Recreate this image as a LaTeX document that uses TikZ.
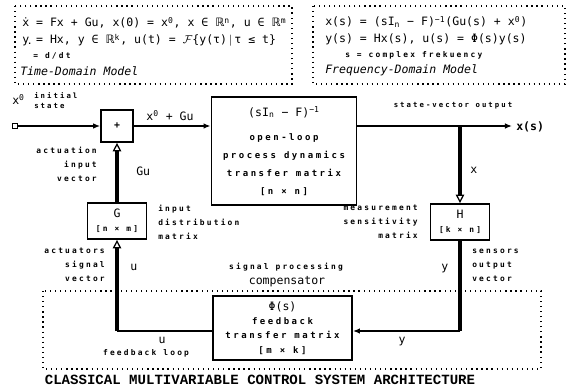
\documentclass[tikz,border=0pt]{standalone}
\usepackage{fontspec}
\usepackage{tikz}
\usetikzlibrary{arrows.meta, positioning, calc}
\newfontfamily\eqfont{DejaVu Sans Mono}
\newfontfamily\lblfont[LetterSpace=28]{DejaVu Sans Mono}
\newfontfamily\symfont{DejaVu Sans}
\newfontfamily\titlefont{Liberation Mono}
\newcommand{\eqsize}{\fontsize{8.2}{10}\selectfont}
\newcommand{\lblsize}{\fontsize{5.6}{10}\selectfont}
\newcommand{\RR}{{\symfont ℝ}}
\newcommand{\upx}[1]{\textsuperscript{#1}}
\newcommand{\dnx}[1]{\textsubscript{#1}}

\begin{document}
\begin{tikzpicture}[
        x=0.025cm, y=-0.025cm,
        eqn/.style={font=\eqfont\eqsize, inner sep=0pt, anchor=base west},
        lbl/.style={font=\lblfont\bfseries\lblsize, inner sep=0pt},
        blk/.style={draw, line width=1.3pt, inner sep=1pt, align=center, font=\lblfont\bfseries\fontsize{6.4}{12.8}\selectfont},
        dotbox/.style={line width=0.9pt, dash pattern=on 0.9pt off 2.7pt},
        hline/.style={line width=1.8pt},
        sig/.style={hline, -{Latex[length=5pt, width=4pt]}},
        feed/.style={line width=2.6pt},
        upin/.style={-{Triangle[open, length=6pt, width=6pt, line width=0.9pt]}}
    ]
        \useasboundingbox (0,0) rectangle (571,387);

        % model frames
        \draw[dotbox] (15,6) rectangle (292,84);
        \draw[dotbox] (313,6) rectangle (565,84);
        \draw[dotbox] (43,291) rectangle (541,369);

        % time-domain model
        \node[eqn] (tdm1) at (22,27) {ẋ = Fx + Gu, x(0) = x\upx{0}, x ∈ \RR\upx{n}, u ∈ \RR\upx{m}};
        \node[eqn] (tdm2) at (22,44) {y = Hx, y ∈ \RR\upx{k}, u(t) = $\mathcal{F}$\{y(τ)$\,|\,$τ ≤ t\}};
        \node[lbl, anchor=base west] (tdm3) at (27,59) {\raisebox{10pt}{.}\,= d/dt};
        \node[eqn, font=\eqfont\itshape\eqsize] (tdm4) at (20,76) {Time-Domain Model};

        % frequency-domain model
        \node[eqn] (fdm1) at (325,26) {x(s) = (sI\dnx{n} − F)\upx{−1}(Gu(s) + x\upx{0})};
        \node[eqn] (fdm2) at (325,43) {y(s) = Hx(s), u(s) = Φ(s)y(s)};
        \node[lbl, anchor=base west] (fdm3) at (345,58) {s = complex frekuency};
        \node[eqn, font=\eqfont\itshape\eqsize] (fdm4) at (325,74) {Frequency-Domain Model};

        % blocks
        \node[draw, line width=0.6pt, minimum size=0.11cm, inner sep=0pt] (x0src) at (15,126) {};
        \node[draw, line width=1.2pt, minimum size=0.8cm, inner sep=0pt, font=\lblfont\bfseries\fontsize{7}{10}\selectfont] (sum) at (117,126) {+};
        \node[blk, minimum width=3.625cm, minimum height=2.7cm] (plant) at (284,151)
            {{\eqfont\mdseries\eqsize (sI\dnx{n} − F)\upx{−1}}\\[4pt] open-loop\\ process dynamics\\ transfer matrix\\{[n × n]}};
        \node[blk, minimum width=1.475cm, minimum height=0.9cm, font=\lblfont\bfseries\fontsize{5.6}{10}\selectfont] (G) at (117,221)
            {{\eqfont\mdseries\eqsize G}\\{[n × m]}};
        \node[blk, minimum width=1.475cm, minimum height=0.9cm, font=\lblfont\bfseries\fontsize{5.6}{10}\selectfont] (H) at (460,222)
            {{\eqfont\mdseries\eqsize H}\\{[k × n]}};
        \node[blk, minimum width=3.475cm, minimum height=1.6cm, font=\lblfont\bfseries\fontsize{6.4}{10.2}\selectfont] (Phi) at (282.5,328)
            {{\eqfont\mdseries\eqsize Φ(s)}\\ feedback\\ transfer matrix\\{[m × k]}};

        \coordinate (tap)  at (460,126);
        \coordinate (xout) at (512,126);
        \coordinate (ybend) at (460,331);
        \coordinate (ubend) at (117,331);

        % forward path
        \draw[sig] (x0src) -- (sum);
        \draw[sig] (sum.east) -- (sum.east -| plant.west);
        \draw[sig] (plant.east |- tap) -- (xout);
        \draw[feed, upin] (tap) -- (H.north);

        % feedback path
        \draw[feed] (H.south) -- (ybend);
        \draw[sig] (ybend) -- (Phi.east |- ybend);
        \draw[hline] (Phi.west |- ubend) -- (ubend);
        \draw[feed, upin] (ubend) -- (G.south);
        \draw[feed, upin] (G.north) -- (sum.south);

        % signal labels
        \node[eqn] (x0lbl) at (12,104) {x\upx{0}};
        \node[lbl, align=left, anchor=north west, font=\lblfont\bfseries\fontsize{5.2}{7}\selectfont] (initlbl) at (34,92) {initial\\state};
        \node[eqn, anchor=base] (sumout) at (170,120) {x\upx{0} + Gu};
        \node[lbl, anchor=base, font=\lblfont\bfseries\fontsize{5.2}{7}\selectfont] (svo) at (453,107) {state-vector output};
        \node[eqn, font=\eqfont\bfseries\eqsize] (xs) at (516,130) {x(s)};
        \node[eqn] (xlbl) at (470,173) {x};
        \node[eqn] (gulbl) at (136,175) {Gu};
        \node[eqn] (ulbl) at (130,270) {u};
        \node[eqn] (ylbl) at (441,270) {y};
        \node[eqn, anchor=base] (ylow) at (402,343) {y};
        \node[eqn, anchor=base] (ulow) at (162,343) {u};

        % side annotations
        \node[lbl, align=right, anchor=north east] (actin)  at (97,147)  {actuation\\input\\vector};
        \node[lbl, align=left,  anchor=north west] (gdesc)  at (158,205) {input\\distribution\\matrix};
        \node[lbl, align=right, anchor=north east] (hdesc)  at (418,205) {measurement\\sensitivity\\matrix};
        \node[lbl, align=right, anchor=north east] (actsig) at (105,248) {actuators\\signal\\vector};
        \node[lbl, align=left,  anchor=north west] (sens)   at (472,249) {sensors\\output\\vector};
        \node[lbl, anchor=base] (sigproc) at (286,269) {signal processing};
        \node[eqn, anchor=base] (comp) at (287,284) {compensator};
        \node[lbl, anchor=base] (fbloop) at (146,355) {feedback loop};

        \node[anchor=base, inner sep=0pt, font=\titlefont\bfseries\fontsize{10}{12}\selectfont] (title) at (260,384)
            {CLASSICAL MULTIVARIABLE CONTROL SYSTEM ARCHITECTURE};
    \end{tikzpicture}
\end{document}
